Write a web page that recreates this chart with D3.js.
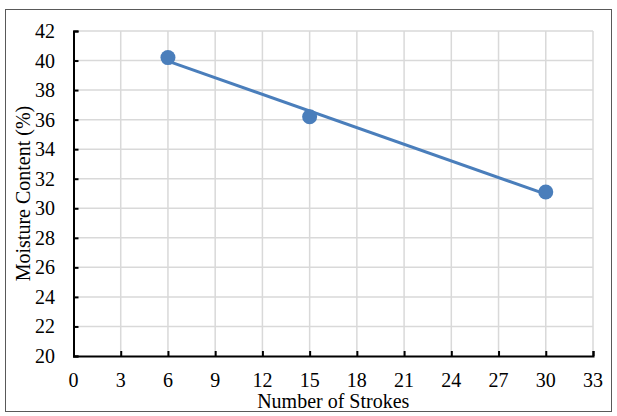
<!DOCTYPE html>
<html>
<head>
<meta charset="utf-8">
<script src="https://cdn.jsdelivr.net/npm/d3@7"></script>
<style>
  body { margin: 0; background: #fff; }
  text { font-family: "Liberation Serif", "Times New Roman", serif; fill: #000; }
</style>
</head>
<body>
<div id="chart"></div>
<script>
const strokes = [6, 15, 30]
const moisture = [40.2, 36.2, 31.1]
const xTicks = d3.range(0, 34, 3)
const yTicks = d3.range(20, 43, 2)

const width = 617
const height = 416
const margin = { top: 31, right: 24, bottom: 60, left: 73.5 }

const svg = d3.select('#chart').append('svg')
  .attr('width', width)
  .attr('height', height)

svg.append('rect')
  .attr('x', 5.5).attr('y', 9.5)
  .attr('width', 606).attr('height', 402)
  .attr('fill', '#fff')
  .attr('stroke', '#595959')
  .attr('stroke-width', 1)

const x = d3.scaleLinear().domain([0, 33]).range([margin.left, width - margin.right])
const y = d3.scaleLinear().domain([20, 42]).range([height - margin.bottom, margin.top])

// grid
const grid = svg.append('g').attr('stroke', '#d9d9d9').attr('stroke-width', 1.5)
grid.selectAll('line.v').data(xTicks.slice(1)).enter().append('line')
  .attr('x1', d => x(d)).attr('x2', d => x(d))
  .attr('y1', y(20)).attr('y2', y(42))
grid.selectAll('line.h').data(yTicks.slice(1)).enter().append('line')
  .attr('x1', x(0)).attr('x2', x(33))
  .attr('y1', d => y(d)).attr('y2', d => y(d))

// axes, ticks drawn inside
const xAxis = svg.append('g')
  .attr('transform', `translate(0,${y(20)})`)
  .call(d3.axisTop(x).tickValues(xTicks).tickSize(5).tickFormat(''))
const yAxis = svg.append('g')
  .attr('transform', `translate(${x(0)},0)`)
  .call(d3.axisRight(y).tickValues(yTicks).tickSize(5).tickFormat(''))
;[xAxis, yAxis].forEach(a => {
  a.selectAll('path, line').attr('stroke', '#000').attr('stroke-width', 2)
})

svg.append('g').selectAll('text').data(xTicks).enter().append('text')
  .attr('x', d => x(d)).attr('y', 387)
  .attr('text-anchor', 'middle')
  .attr('font-size', 20)
  .text(d => d)

svg.append('g').selectAll('text').data(yTicks).enter().append('text')
  .attr('x', 55).attr('y', d => y(d) + 7)
  .attr('text-anchor', 'end')
  .attr('font-size', 20)
  .text(d => d)

svg.append('text')
  .attr('x', (x(0) + x(33)) / 2).attr('y', 408)
  .attr('text-anchor', 'middle')
  .attr('font-size', 20)
  .text('Number of Strokes')

svg.append('text')
  .attr('transform', `translate(30,${(y(20) + y(42)) / 2}) rotate(-90)`)
  .attr('text-anchor', 'middle')
  .attr('font-size', 20)
  .text('Moisture Content (%)')

// linear trendline through the points
const mx = d3.mean(strokes)
const my = d3.mean(moisture)
const slope = d3.sum(strokes, (s, i) => (s - mx) * (moisture[i] - my)) /
  d3.sum(strokes, s => (s - mx) ** 2)
const icpt = my - slope * mx
const xs = d3.extent(strokes)

svg.append('path')
  .datum(xs)
  .attr('d', d3.line().x(d => x(d)).y(d => y(icpt + slope * d)))
  .attr('fill', 'none')
  .attr('stroke', '#4a7ebb')
  .attr('stroke-width', 3)

svg.append('g').selectAll('circle').data(strokes).enter().append('circle')
  .attr('cx', d => x(d))
  .attr('cy', (d, i) => y(moisture[i]))
  .attr('r', 7.5)
  .attr('fill', '#4a7ebb')
</script>
</body>
</html>
